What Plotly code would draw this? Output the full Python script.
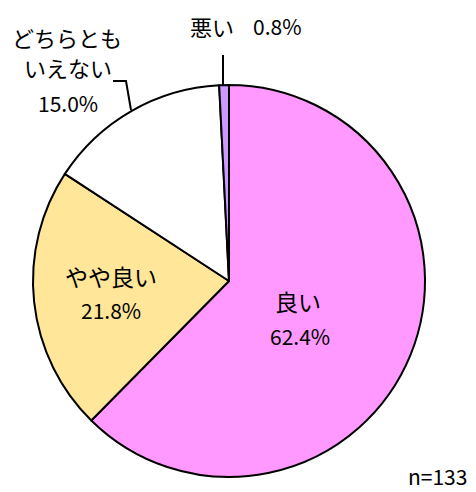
import plotly.graph_objects as go

labels = ["良い", "やや良い", "どちらともいえない", "悪い"]
values = [62.4, 21.8, 15.0, 0.8]
colors = ["#FF99FF", "#FFE699", "#FFFFFF", "#CC99FF"]
pct_labels = ["62.4%", "21.8%", "15.0%", "0.8%"]
n_label = "n=133"

W, H = 476, 492
FONT = "Noto Sans CJK JP"

def px(x):
    return x / W

def py(y):
    return 1 - y / H

fig = go.Figure(go.Pie(
    labels=labels, values=values, sort=False, direction="clockwise", rotation=0,
    marker=dict(colors=colors, line=dict(color="black", width=2)),
    textinfo="none", hoverinfo="label+percent", showlegend=False,
    domain=dict(x=[px(33), px(425)], y=[py(477), py(85)]),
))

ann = []
def add(text, x, y, size=22):
    ann.append(dict(text=text, x=px(x), y=py(y), xref="paper", yref="paper",
                    showarrow=False, xanchor="center", yanchor="middle",
                    font=dict(family=FONT, size=size, color="black")))

add(labels[0], 298, 301, 23)
add(pct_labels[0], 300, 336, 21)
add(labels[1], 111, 276, 23)
add(pct_labels[1], 111, 310, 21)
add(labels[2][:5], 67, 37)
add(labels[2][5:], 68, 67)
add(pct_labels[2], 68, 103, 21)
add(labels[3], 212, 26)
add(pct_labels[3], 277, 26, 21)
add(n_label, 437, 476, 21)

shapes = [
    dict(type="path", xref="paper", yref="paper",
         path=f"M {px(113)},{py(81)} L {px(126)},{py(81)} L {px(131)},{py(110)}",
         line=dict(color="black", width=2)),
    dict(type="line", xref="paper", yref="paper",
         x0=px(223), y0=py(55), x1=px(223), y1=py(86),
         line=dict(color="black", width=2)),
]

fig.update_layout(width=W, height=H, margin=dict(l=0, r=0, t=0, b=0),
                  paper_bgcolor="white", plot_bgcolor="white",
                  annotations=ann, shapes=shapes)
fig.write_html("out.html", config={"displayModeBar": False},
               post_script="document.body.style.margin='0';")
